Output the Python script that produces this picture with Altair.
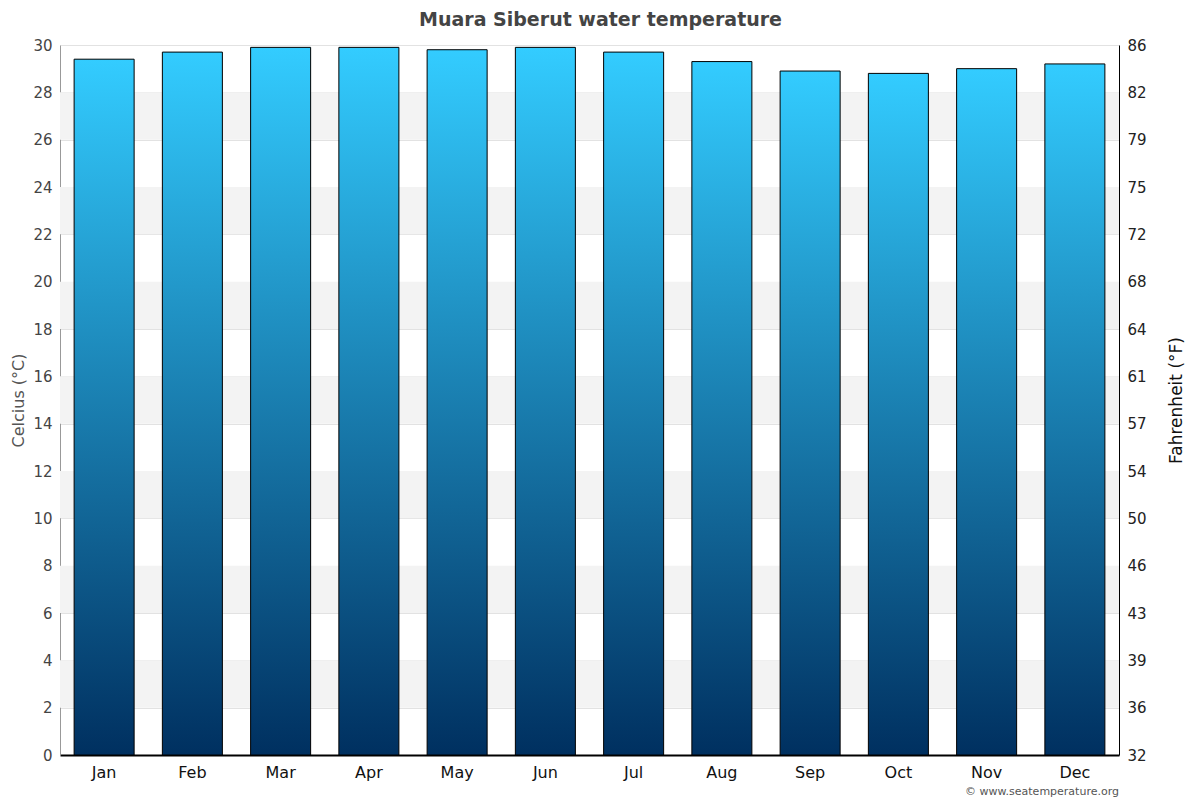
import altair as alt
import pandas as pd

# --- data ---
months = ['Jan', 'Feb', 'Mar', 'Apr', 'May', 'Jun', 'Jul', 'Aug', 'Sep', 'Oct', 'Nov', 'Dec']
temps_c = [29.4, 29.7, 29.9, 29.9, 29.8, 29.9, 29.7, 29.3, 28.9, 28.8, 29.0, 29.2]
band_lo = [2, 6, 10, 14, 18, 22, 26]
band_hi = [4, 8, 12, 16, 20, 24, 28]
credit = ['© www.seatemperature.org']

df = pd.DataFrame({'month': months, 'temp': temps_c})
bands = pd.DataFrame({'lo': band_lo, 'hi': band_hi})

W, H = 1059, 710
FONT = 'DejaVu Sans'

y_scale = alt.Scale(domain=[0, 30], nice=False, zero=True)
x_enc = alt.X(
    'month:N', sort=months, title=None,
    scale=alt.Scale(paddingInner=0.32, paddingOuter=0.16),
    axis=alt.Axis(labelAngle=0, labelFontSize=16, labelColor='#111', labelFont=FONT,
                  domainColor='#000', domainWidth=2, ticks=False, labelPadding=9)
)

# alternating background bands
bg = alt.Chart(bands).mark_rect(color='#f3f3f3').encode(
    x=alt.value(0), x2=alt.value(W),
    y=alt.Y('lo:Q', scale=y_scale, axis=None), y2='hi:Q'
)

bars = alt.Chart(df).mark_bar(
    stroke='#000', strokeWidth=1,
    color=alt.Gradient(
        gradient='linear',
        stops=[alt.GradientStop(color='#003060', offset=0),
               alt.GradientStop(color='#33ccff', offset=1)],
        x1=0, x2=0, y1=1, y2=0
    )
).encode(
    x=x_enc,
    y=alt.Y('temp:Q', scale=y_scale, title='Celcius (°C)',
            axis=alt.Axis(orient='left', values=list(range(0, 31, 2)), grid=True,
                          gridColor='#e2e2e2', ticks=False, domainColor='#999',
                          labelColor='#444', labelFontSize=15, labelFont=FONT,
                          labelPadding=8, titleFontSize=16, titleFont=FONT,
                          titleColor='#555', titleFontWeight='normal', titlePadding=6)),
    tooltip=['month', 'temp']
)

# Fahrenheit axis on the right, same scale
right = alt.Chart(df).mark_tick(opacity=0).encode(
    x=x_enc,
    y=alt.Y('temp:Q', scale=y_scale, title='Fahrenheit (°F)',
            axis=alt.Axis(orient='right', values=list(range(0, 31, 2)), grid=False,
                          ticks=False, domainColor='#000', labelColor='#222',
                          labelFontSize=15, labelFont=FONT, labelPadding=8,
                          labelExpr="format(datum.value * 9 / 5 + 32, '.0f')",
                          titleFontSize=17, titleFont=FONT, titleColor='#111',
                          titleFontWeight='normal', titleAngle=270, titlePadding=39))
)

note = alt.Chart(pd.DataFrame({'t': credit})).mark_text(
    align='right', baseline='middle', fontSize=11, font=FONT, color='#555'
).encode(text='t:N', x=alt.value(W), y=alt.value(747))

chart = alt.layer(bg, bars, right, note).resolve_axis(y='independent').properties(
    width=W, height=H,
    autosize=alt.AutoSizeParams(type='none'),
    padding={'left': 52, 'top': 37, 'right': 73, 'bottom': 47},
    title=alt.TitleParams('Muara Siberut water temperature', fontSize=19, font=FONT,
                          color='#444', fontWeight='bold', offset=8, dx=11)
).configure_view(stroke=None)

chart.save("out.html", embed_options={"renderer": "svg", "actions": False})
